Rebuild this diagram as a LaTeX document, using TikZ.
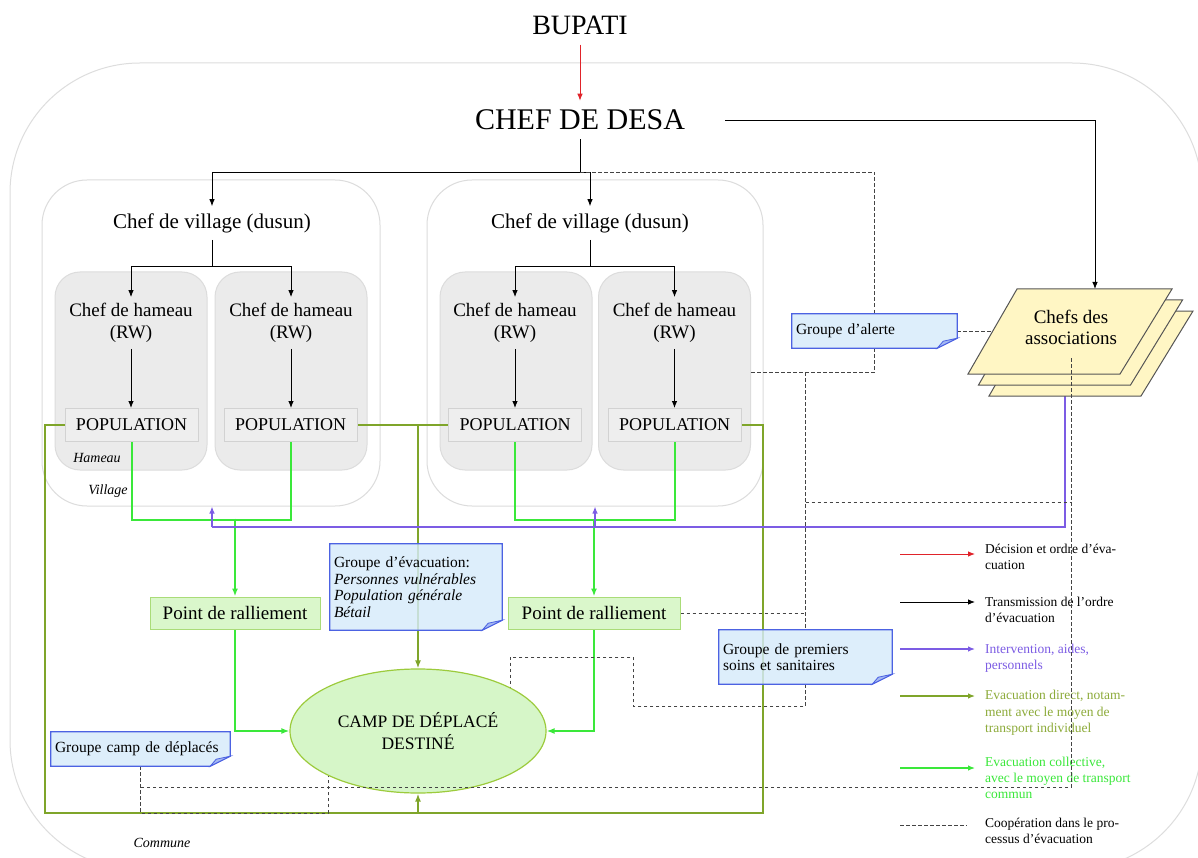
\documentclass[tikz,border=0pt]{standalone}
\usepackage{fontspec}
\setmainfont{Liberation Serif}
\usetikzlibrary{arrows.meta,calc,shapes.geometric}
\pgfdeclarelayer{bg}
\pgfdeclarelayer{lines}
\pgfdeclarelayer{notebg}
\pgfdeclarelayer{top}
\pgfsetlayers{bg,lines,notebg,main,top}
\definecolor{cRed}{HTML}{E0232A}
\definecolor{cOli}{HTML}{7FA52A}
\definecolor{cOliT}{HTML}{8DAB3A}
\definecolor{cGrn}{HTML}{3AE83A}
\definecolor{cPur}{HTML}{7C5CE4}
\definecolor{cNoteF}{HTML}{D6EBFB}
\definecolor{cNoteD}{HTML}{4C62E2}
\definecolor{cFold}{HTML}{A4B8F2}
\definecolor{cRallF}{HTML}{DAF7CB}
\definecolor{cRallD}{HTML}{AADC78}
\definecolor{cCampF}{HTML}{D6F6C8}
\definecolor{cCampD}{HTML}{9CCB3C}
\definecolor{cAssF}{HTML}{FFF6C4}
\definecolor{cAssD}{HTML}{555555}
\definecolor{cHamF}{HTML}{EBEBEB}
\definecolor{cHamD}{HTML}{DCDCDC}
\definecolor{cPopF}{HTML}{EEEEEE}
\definecolor{cPopD}{HTML}{D2D2D2}
\definecolor{cVilD}{HTML}{DCDCDC}
\definecolor{cComD}{HTML}{DDDDDD}
\definecolor{cDash}{HTML}{444444}
\newcommand{\notedeco}[1]{%
 \begin{pgfonlayer}{notebg}
 \path[notefill] (#1.north west) -- (#1.north east) -- ($(#1.south east)+(0,-10)$) -- ($(#1.south east)+(-20,0)$) -- (#1.south west) -- cycle;
 \path[notefold] ($(#1.south east)+(0,-10)$) -- ($(#1.south east)+(-20,0)$) -- ($(#1.south east)+(-14,-7)$) -- cycle;
 \end{pgfonlayer}}
\begin{document}
\begin{tikzpicture}[x=1pt,y=-1pt,
 tip/.style={-{Latex[length=7pt,width=5.5pt]}},
 blkline/.style={draw=black, line width=0.85pt},
 blkarr/.style={blkline, tip},
 redarr/.style={draw=cRed, line width=0.9pt, tip},
 grnline/.style={draw=cGrn, line width=2pt},
 grnarr/.style={grnline, -{Latex[length=8pt,width=6pt]}},
 oliline/.style={draw=cOli, line width=2pt},
 oliarr/.style={oliline, -{Latex[length=8pt,width=6pt]}},
 purline/.style={draw=cPur, line width=1.2pt},
 purarr/.style={purline, tip},
 dashln/.style={draw=cDash, line width=0.9pt, dash pattern=on 3.5pt off 2.5pt},
 villbox/.style={draw=cVilD, fill=white, line width=1pt, rounded corners=45pt, inner sep=0pt},
 hambox/.style={draw=cHamD, fill=cHamF, line width=1pt, rounded corners=25pt, inner sep=0pt, minimum width=152pt, minimum height=198pt},
 cvtxt/.style={font=\fontsize{21}{24}\selectfont, inner sep=7pt},
 chtxt/.style={font=\fontsize{19}{22}\selectfont, inner sep=6pt, align=center},
 popbox/.style={draw=cPopD, fill=cPopF, line width=1pt, font=\fontsize{18}{20}\selectfont, minimum width=133pt, minimum height=33pt, inner sep=0pt},
 rallbox/.style={draw=cRallD, fill=cRallF, line width=1pt, font=\fontsize{19}{21}\selectfont, minimum height=32pt, inner sep=0pt},
 campell/.style={ellipse, draw=cCampD, fill=cCampF, line width=1.2pt, minimum width=256pt, minimum height=124pt, inner sep=0pt, align=center, font=\fontsize{17.5}{22}\selectfont},
 notebox/.style={inner sep=4pt, align=left, font=\fontsize{15.5}{16.5}\selectfont},
 notefill/.style={fill=cNoteF, fill opacity=0.82, draw=cNoteD, line width=1.2pt},
 notefold/.style={fill=cFold, draw=cNoteD, line width=0.8pt},
 assoc/.style={fill=cAssF, draw=cAssD, line width=1pt},
 legtxt/.style={anchor=west, align=left, inner sep=0pt, font=\fontsize{13.5}{16.3}\selectfont},
 ittxt/.style={font=\fontsize{14}{16}\selectfont\itshape, inner sep=0pt}
]
\useasboundingbox (0,0) rectangle (1198,858);
\clip (0,0) rectangle (1198,858);

\begin{pgfonlayer}{bg}
 \fill[white] (0,0) rectangle (1198,858);
 \draw[cComD, line width=1pt, rounded corners=130pt] (10,63) rectangle (1202,870);
 \node[villbox, minimum width=338pt, minimum height=326pt] (v1) at (211,343) {};
 \node[villbox, minimum width=336pt, minimum height=326pt] (v2) at (595,343) {};
 \node[hambox] (h1) at (131,371) {};
 \node[hambox] (h2) at (291,371) {};
 \node[hambox] (h3) at (516,371) {};
 \node[hambox] (h4) at (674.5,371) {};
\end{pgfonlayer}

% texts
\node[font=\fontsize{28}{30}\selectfont, inner sep=10pt] (bupati) at (580,25) {BUPATI};
\node[font=\fontsize{30}{32}\selectfont, inner sep=9pt] (desa) at (580,120) {CHEF DE DESA};
\node[cvtxt] (cv1) at (212,223) {Chef de village (dusun)};
\node[cvtxt] (cv2) at (590,223) {Chef de village (dusun)};
\node[chtxt] (ch1) at (131,323) {Chef de hameau\\(RW)};
\node[chtxt] (ch2) at (291,323) {Chef de hameau\\(RW)};
\node[chtxt] (ch3) at (515,323) {Chef de hameau\\(RW)};
\node[chtxt] (ch4) at (674.5,323) {Chef de hameau\\(RW)};
\node[popbox] (pop1) at (131.5,425) {POPULATION};
\node[popbox] (pop2) at (290.5,425) {POPULATION};
\node[popbox] (pop3) at (515,425) {POPULATION};
\node[popbox] (pop4) at (674.5,425) {POPULATION};
\node[ittxt] (lham) at (97,458) {Hameau};
\node[ittxt] (lvil) at (108,491) {Village};
\node[ittxt] (lcom) at (162,843) {Commune};
\node[rallbox, minimum width=170pt] (rall1) at (235,613) {Point de ralliement};
\node[rallbox, minimum width=172pt] (rall2) at (594,613) {Point de ralliement};
\node[campell] (camp) at (418,731) {CAMP DE DÉPLACÉ\\DESTINÉ};

% notes
\node[notebox, minimum width=165pt, minimum height=34pt, text width=157pt] (alerte) at (874.5,331) {Groupe d’alerte};
\notedeco{alerte}
\node[notebox, minimum width=172pt, minimum height=86pt, text width=164pt] (evac) at (416,587) {Groupe d’évacuation:\\\textit{Personnes vulnérables}\\\textit{Population générale}\\\textit{Bétail}};
\notedeco{evac}
\node[notebox, minimum width=173pt, minimum height=54pt, text width=165pt] (soins) at (805.5,657) {Groupe de premiers\\soins et sanitaires};
\notedeco{soins}
\node[notebox, minimum width=179pt, minimum height=34pt, text width=171pt] (campnote) at (140.5,749) {Groupe camp de déplacés};
\notedeco{campnote}

% associations stack
\filldraw[assoc] (1038,311) -- (1193,311) -- (1141,396) -- (989,396) -- cycle;
\filldraw[assoc] (1027.5,300) -- (1182.5,300) -- (1130.5,385) -- (978.5,385) -- cycle;
\filldraw[assoc] (1017,289) -- (1172,289) -- (1120,374) -- (968,374) -- cycle;
\coordinate (assTop) at (1095,289);
\coordinate (assBot) at (1065,396);
\coordinate (assLeft) at (993,331);
\node[font=\fontsize{19}{21}\selectfont, align=center, inner sep=0pt] (assoc) at (1071,327) {Chefs des\\associations};

% connectors
\begin{pgfonlayer}{lines}
 \draw[redarr] (bupati.south) -- (desa.north);
 \coordinate (jd) at (580,172);
 \draw[blkline] (desa.south) -- (jd);
 \draw[blkarr] (jd) -| (cv1.north);
 \draw[blkarr] (jd) -| (cv2.north);
 \draw[blkarr] ([xshift=31pt]desa.east) -| (assTop);
 \draw[blkline] (cv1.south) -- ++(0,27) coordinate (j1);
 \draw[blkarr] (j1) -| (ch1.north);
 \draw[blkarr] (j1) -| (ch2.north);
 \draw[blkline] (cv2.south) -- ++(0,27) coordinate (j2);
 \draw[blkarr] (j2) -| (ch3.north);
 \draw[blkarr] (j2) -| (ch4.north);
 \draw[blkarr] (ch1.south) -- (ch1.south |- pop1.north);
 \draw[blkarr] (ch2.south) -- (ch2.south |- pop2.north);
 \draw[blkarr] (ch3.south) -- (ch3.south |- pop3.north);
 \draw[blkarr] (ch4.south) -- (ch4.south |- pop4.north);
 % green
 \draw[grnline] (pop1.south) -- ++(0,78) -| (pop2.south);
 \draw[grnarr] ([yshift=78pt]rall1.north) -- (rall1.north);
 \draw[grnline] (pop3.south) -- ++(0,78) -| (pop4.south);
 \draw[grnarr] ([yshift=78pt]rall2.north) -- (rall2.north);
 \draw[grnarr] (rall1.south) |- (camp.west);
 \draw[grnarr] (rall2.south) |- (camp.east);
 % olive
 \draw[oliarr] (pop2.east) -| (camp.north);
 \draw[oliline] (pop3.west) -- (pop3.west -| camp.north);
 \coordinate (oBL) at (45,813);
 \coordinate (oBR) at (763,813);
 \draw[oliline] (pop1.west) -| (oBL) -- (oBR) |- (pop4.east);
 \draw[oliarr] (camp.south |- oBL) -- (camp.south);
 % purple
 \coordinate (pL) at (212,527);
 \draw[purline] (assBot) |- (pL);
 \draw[purarr] (pL) -- (pL |- v1.south);
 \draw[purarr] (v2.south |- pL) -- (v2.south);
 % dashed
 \draw[dashln] (jd) -| (alerte.north);
 \draw[dashln] (alerte.south) -- ++(0,24) coordinate (dA) -- (dA -| h4.east);
 \coordinate (dB) at (805.5,372);
 \draw[dashln] (dB) -- (soins.north);
 \draw[dashln] (rall2.east) -- (rall2.east -| soins.north);
 \draw[dashln] (soins.south) |- (633,706) |- (510,657) -- (510,700);
 \draw[dashln] (dB |- 0,502) -- (1071,502);
 \draw[dashln] (alerte.east) -- (assLeft);
 \draw[dashln] (campnote.south) |- (328,813) -- (328,770);
\end{pgfonlayer}
\begin{pgfonlayer}{top}
 \draw[dashln] (1071,358) -- (1071,787) -- (141,787);
\end{pgfonlayer}

% legend
\draw[redarr] (900,554) -- (975,554);
\node[legtxt] (leg1) at (985,557) {Décision et ordre d’éva-\\cuation};
\draw[blkarr] (900,602) -- (975,602);
\node[legtxt] (leg2) at (985,610) {Transmission de l’ordre\\d’évacuation};
\draw[purarr] (900,649) -- (975,649);
\node[legtxt, text=cPur] (leg3) at (985,658) {Intervention, aides,\\personnels};
\draw[draw=cOli, line width=1.2pt, tip] (900,696) -- (975,696);
\node[legtxt, text=cOliT] (leg4) at (985,713) {Evacuation direct, notam-\\ment avec le moyen de\\transport individuel};
\draw[draw=cGrn, line width=1.2pt, tip] (900,768) -- (975,768);
\node[legtxt, text=cGrn] (leg5) at (985,778) {Evacuation collective,\\avec le moyen de transport\\commun};
\draw[dashln] (900,825) -- (967,825);
\node[legtxt] (leg6) at (985,831) {Coopération dans le pro-\\cessus d’évacuation};
\end{tikzpicture}
\end{document}
